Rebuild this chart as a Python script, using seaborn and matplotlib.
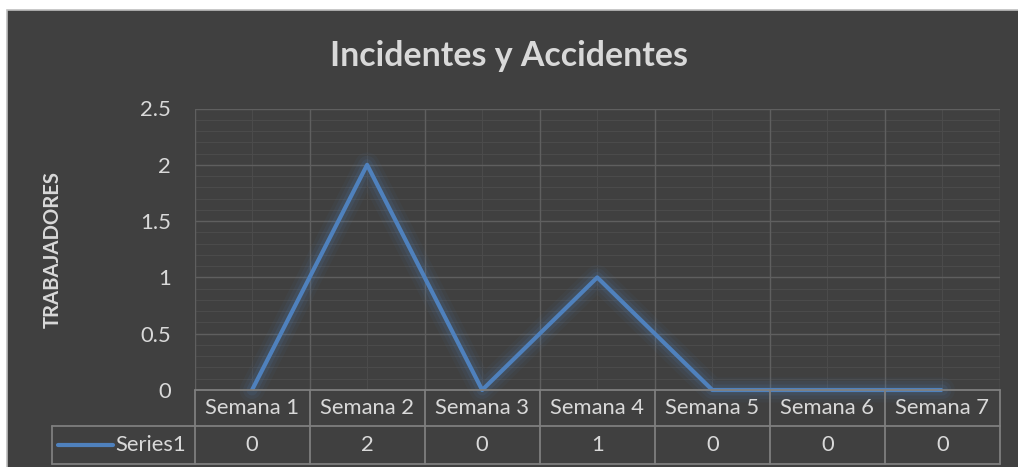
import matplotlib
matplotlib.use("Agg")
import matplotlib.pyplot as plt
import matplotlib.patches as mpatches
import pandas as pd
import seaborn as sns

# chart data
semanas = ["Semana 1", "Semana 2", "Semana 3", "Semana 4", "Semana 5", "Semana 6", "Semana 7"]
series1 = [0, 2, 0, 1, 0, 0, 0]
serie_nombre = "Series1"
y_ticks = [0, 0.5, 1, 1.5, 2, 2.5]
y_tick_labels = ["0", "0.5", "1", "1.5", "2", "2.5"]

BG = "#404040"
TXT = "#d9d9d9"
BLUE = "#4f81bd"
BORDER = "#7f7f7f"
FS = 15.8

sns.set_theme(style="dark")
plt.rcParams["font.family"] = ["Lato", "DejaVu Sans"]

df = pd.DataFrame({"x": range(len(semanas)), "y": series1})

fig = plt.figure(figsize=(10.18, 4.67), dpi=100, facecolor="white")
W, H = 1018, 467
# chart frame
fig.patches.append(mpatches.Rectangle((7 / W, -0.1), 1.2, 1.1 - 10 / H, transform=fig.transFigure,
                                      facecolor=BG, edgecolor="#bfbfbf", linewidth=1.2, zorder=-10))

left, right, top, bottom = 194.5 / W, 1000 / W, 1 - 108.5 / H, 1 - 390 / H
ax = fig.add_axes([left, bottom, right - left, top - bottom])
ax.set_facecolor(BG)

# glow
for lw, a in [(18, 0.05), (13, 0.08), (8, 0.12)]:
    sns.lineplot(data=df, x="x", y="y", ax=ax, color=BLUE, linewidth=lw, alpha=a,
                 solid_capstyle="round", solid_joinstyle="round", clip_on=False, legend=False)
sns.lineplot(data=df, x="x", y="y", ax=ax, color=BLUE, linewidth=3.0,
             solid_capstyle="butt", clip_on=False, legend=False)

n = len(semanas)
ax.set_xlim(-0.5, n - 0.5)
ax.set_ylim(0, 2.5)

# grid
for i in range(n):
    ax.axvline(i, color="#4b4b4b", lw=0.8, zorder=0)
for i in range(n + 1):
    ax.axvline(i - 0.5, color="#5f5f5f", lw=1.0, zorder=0.5)
for k in range(26):
    v = k * 0.1
    if k % 5:
        ax.axhline(v, color="#4b4b4b", lw=0.8, zorder=0)
for v in y_ticks:
    ax.axhline(v, color="#5f5f5f", lw=1.0, zorder=0.5)
ax.grid(False)
for s in ax.spines.values():
    s.set_visible(False)

ax.set_xticks([])
ax.set_yticks(y_ticks)
ax.set_yticklabels(y_tick_labels)
ax.tick_params(axis="y", length=0, pad=17, labelsize=FS, labelcolor=TXT)
ax.set_xlabel("")
ax.set_ylabel("TRABAJADORES", fontsize=14.6, fontweight="bold", color=TXT)
ax.yaxis.set_label_coords(-0.163, 0.5)

fig.text(0.5, 1 - 56 / H, "Incidentes y Accidentes", ha="center", va="center",
         fontsize=24.4, fontweight="bold", color=TXT)

# data table below the plot
plot_h = 390 - 108.5
h1 = (426 - 390) / plot_h
h2 = (464 - 426) / plot_h
tr = ax.get_xaxis_transform()
cat_w = (1000 - 194.5) / n
leg_x0 = -0.5 - (194.5 - 52) / cat_w
kw = dict(transform=tr, clip_on=False, color=BORDER, lw=1.3)
ax.plot([-0.5, n - 0.5], [0, 0], **kw)
ax.plot([leg_x0, n - 0.5], [-h1, -h1], **kw)
ax.plot([leg_x0, n - 0.5], [-h1 - h2, -h1 - h2], **kw)
ax.plot([leg_x0, leg_x0], [-h1, -h1 - h2], **kw)
for i in range(n + 1):
    ax.plot([i - 0.5, i - 0.5], [0, -h1 - h2], **kw)
for i, (s, v) in enumerate(zip(semanas, series1)):
    ax.text(i, -h1 / 2, s, transform=tr, ha="center", va="center", fontsize=FS, color=TXT)
    ax.text(i, -h1 - h2 / 2, str(v), transform=tr, ha="center", va="center", fontsize=FS, color=TXT)
# legend key in the table
ax.plot([leg_x0 + 6 / cat_w, leg_x0 + 61 / cat_w], [-h1 - h2 / 2] * 2, transform=tr,
        clip_on=False, color=BLUE, lw=3.0)
ax.text(-0.5 - 8 / cat_w, -h1 - h2 / 2, serie_nombre, transform=tr, ha="right", va="center",
        fontsize=FS, color=TXT)

fig.savefig("out.png", dpi=100, facecolor="white")
